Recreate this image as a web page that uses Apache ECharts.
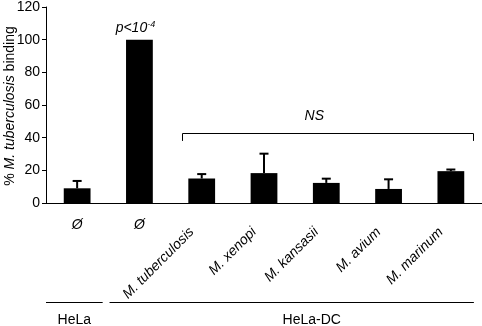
<!DOCTYPE html>
<html>
<head>
<meta charset="utf-8">
<script src="https://cdn.jsdelivr.net/npm/echarts@6/dist/echarts.min.js"></script>
<style>html,body{margin:0;padding:0;background:#fff}#c{width:482px;height:326px}</style>
</head>
<body>
<div id="c"></div>
<script>
var categories = ['HeLa Ø', 'HeLa-DC Ø', 'M. tuberculosis', 'M. xenopi', 'M. kansasii', 'M. avium', 'M. marinum'];
var plainLabels = ['Ø', 'Ø', '', '', '', '', ''];
var italicLabels = ['', '', 'M. tuberculosis', 'M. xenopi', 'M. kansasii', 'M. avium', 'M. marinum'];
var values = [9, 100, 15, 18.3, 12.3, 8.6, 19.5];
var errors = [4.5, 0, 2.7, 11.9, 2.6, 5.9, 1.0];
var yTicks = [0, 20, 40, 60, 80, 100, 120];
var groups = [{ name: 'HeLa', from: 0, to: 0 }, { name: 'HeLa-DC', from: 1, to: 6 }];
var bracketValue = 43, bracketTickValue = 38;
var FONT = 'Liberation Sans, Arial, sans-serif';

var chart = echarts.init(document.getElementById('c'), null, { renderer: 'canvas' });
var errData = values.map(function (v, i) { return [i, v, v + errors[i]]; });

chart.setOption({
  animation: false,
  backgroundColor: '#fff',
  grid: { left: 46, right: 0, top: 4.5, bottom: 123, containLabel: false },
  xAxis: [{
    type: 'category', data: categories, position: 'bottom',
    axisLine: { lineStyle: { color: '#000', width: 1 } },
    axisTick: { show: false },
    axisLabel: { formatter: function (v, i) { return plainLabels[i]; }, interval: 0, margin: 15, color: '#000', fontSize: 14, fontFamily: FONT, fontStyle: 'italic' }
  }, {
    type: 'category', data: categories, position: 'bottom',
    axisLine: { show: false }, axisTick: { show: false },
    axisLabel: { formatter: function (v, i) { return italicLabels[i]; }, interval: 0, rotate: 45, margin: 17, padding: [0, 14, 0, 0], color: '#000', fontSize: 14, fontFamily: FONT, fontStyle: 'italic' }
  }],
  yAxis: {
    type: 'value', min: 0, max: 120, interval: 20,
    axisLine: { show: true, lineStyle: { color: '#000', width: 1 } },
    axisTick: { show: true, length: 4, lineStyle: { color: '#000' } },
    splitLine: { show: false },
    axisLabel: { color: '#000', fontSize: 14, fontFamily: FONT, margin: 6,
      formatter: function (v) { return yTicks.indexOf(v) >= 0 ? String(v) : ''; } }
  },
  series: [{
    type: 'bar', data: values, barWidth: '43%', xAxisIndex: 0,
    itemStyle: { color: '#000' }, z: 2
  }, {
    type: 'custom', xAxisIndex: 0, data: errData, z: 3,
    renderItem: function (params, api) {
      var x = api.value(0);
      var lo = api.coord([x, api.value(1)]);
      var hi = api.coord([x, api.value(2)]);
      if (Math.abs(lo[1] - hi[1]) < 0.5) return { type: 'group', children: [] };
      var half = 4.5;
      return {
        type: 'group',
        children: [
          { type: 'line', shape: { x1: lo[0], y1: lo[1], x2: hi[0], y2: hi[1] }, style: { stroke: '#000', lineWidth: 2 } },
          { type: 'line', shape: { x1: hi[0] - half, y1: hi[1], x2: hi[0] + half, y2: hi[1] }, style: { stroke: '#000', lineWidth: 2 } }
        ]
      };
    }
  }]
});

function px(ci, v) { return chart.convertToPixel({ xAxisIndex: 0, yAxisIndex: 0 }, [ci, v]); }
var band = px(1, 0)[0] - px(0, 0)[0];
var gfx = [];
// y axis title
gfx.push({
  type: 'text', x: 10, y: 106, rotation: Math.PI / 2,
  style: {
    text: '{n|% }{i|M. tuberculosis}{n| binding}', align: 'center', verticalAlign: 'middle',
    rich: {
      n: { fontSize: 14, fontFamily: FONT, fill: '#000' },
      i: { fontSize: 14, fontFamily: FONT, fontStyle: 'italic', fill: '#000' }
    }
  }
});
// p-value label
var pp = px(1, 107);
gfx.push({
  type: 'text', x: pp[0] - 4, y: pp[1],
  style: {
    text: '{i|p<10}{s|-4}', align: 'center', verticalAlign: 'middle',
    rich: {
      i: { fontSize: 14, fontFamily: FONT, fontStyle: 'italic', fill: '#000' },
      s: { fontSize: 9, fontFamily: FONT, fontStyle: 'italic', fill: '#000', verticalAlign: 'top', padding: [0, 0, 7, 0] }
    }
  }
});
// NS bracket
var b0 = px(2, bracketValue), b1 = px(6, bracketValue), bt = px(2, bracketTickValue);
var bx0 = Math.round(b0[0] - band * 0.31) + 0.5, bx1 = Math.round(b1[0] + band * 0.36) + 0.5;
var by = Math.round(b0[1]) + 0.5;
gfx.push({ type: 'polyline', shape: { points: [[bx0, bt[1]], [bx0, by], [bx1, by], [bx1, bt[1]]] }, style: { stroke: '#000', lineWidth: 1, fill: null } });
var ns = px(4, 53);
gfx.push({ type: 'text', x: ns[0] - 12, y: ns[1], style: { text: 'NS', align: 'center', verticalAlign: 'middle', fontSize: 14, fontFamily: FONT, fontStyle: 'italic', fill: '#000' } });
// group lines
var lineY = 302.5;
groups.forEach(function (g, gi) {
  var xa = gi === 0 ? px(g.from, 0)[0] - band * 0.5 : px(g.from, 0)[0] - band * 0.48;
  var xb = gi === 0 ? px(g.to, 0)[0] + band * 0.41 : px(g.to, 0)[0] + band * 0.37;
  gfx.push({ type: 'line', shape: { x1: xa, y1: lineY, x2: xb, y2: lineY }, style: { stroke: '#000', lineWidth: 1 } });
  gfx.push({ type: 'text', x: gi === 0 ? (xa + xb) / 2 : (xa + xb) / 2 + 20, y: 320, style: { text: g.name, align: 'center', verticalAlign: 'middle', fontSize: 14, fontFamily: FONT, fill: '#000' } });
});
chart.setOption({ graphic: gfx });
</script>
</body>
</html>
